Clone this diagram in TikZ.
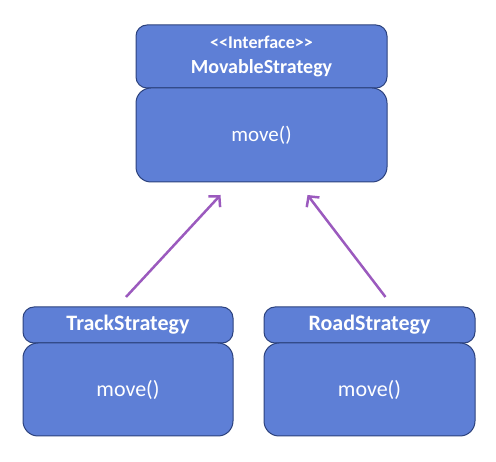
\documentclass[tikz,border=0pt]{standalone}
\usepackage{fontspec}
\setmainfont{Carlito}
\usetikzlibrary{positioning,arrows.meta}

\definecolor{boxfill}{RGB}{94,127,214}
\definecolor{boxline}{RGB}{44,66,125}
\definecolor{arrowpurple}{RGB}{155,90,190}

\begin{document}
\begin{tikzpicture}[x=1pt,y=-1pt,
  head/.style={rectangle, rounded corners=11pt, draw=boxline, line width=1pt, fill=boxfill,
    text=white, font=\bfseries\fontsize{22}{24}\selectfont, align=center,
    inner sep=0pt, outer sep=0pt},
  body/.style={rectangle, rounded corners=15pt, draw=boxline, line width=1pt, fill=boxfill,
    text=white, font=\fontsize{22}{24}\selectfont, inner sep=0pt, outer sep=0pt},
  impl/.style={draw=arrowpurple, line width=2.5pt, -{Straight Barb[length=7.5pt,width=16pt]}}]
  \useasboundingbox (0,0) rectangle (496,462);
  % interface
  \node[head, minimum width=251pt, minimum height=63pt, font=\bfseries\fontsize{20}{22}\selectfont] (movHead) at (261.5,56.5)
    {{\fontsize{18}{19}\selectfont{<}{<}Interface{>}{>}}\\[3pt]MovableStrategy};
  \node[body, minimum width=251pt, minimum height=94pt, below=0pt of movHead, font=\fontsize{21}{23}\selectfont] (movBody) {move()};
  % strategies
  \node[head, minimum width=210pt, minimum height=36pt] (trackHead) at (128,325) {TrackStrategy};
  \node[body, minimum width=210pt, minimum height=93pt, below=0pt of trackHead] (trackBody) {move()};
  \node[head, minimum width=211pt, minimum height=36pt] (roadHead) at (369.5,325) {RoadStrategy};
  \node[body, minimum width=211pt, minimum height=93pt, below=0pt of roadHead] (roadBody) {move()};
  % arrows
  \draw[impl] ([xshift=-2pt,yshift=10pt]trackHead.north) -- ([xshift=-41pt,yshift=-13pt]movBody.south);
  \draw[impl] ([xshift=16pt,yshift=10pt]roadHead.north) -- ([xshift=46pt,yshift=-13pt]movBody.south);
\end{tikzpicture}
\end{document}
